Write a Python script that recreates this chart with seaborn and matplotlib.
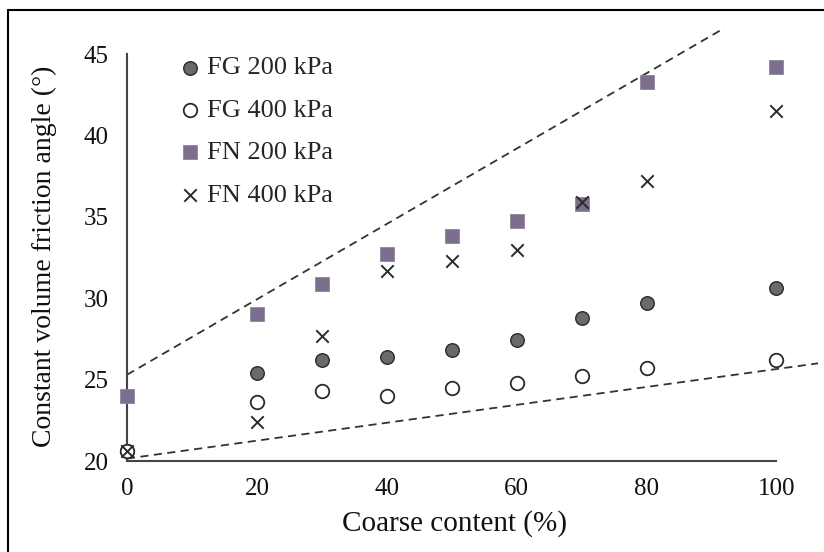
import numpy as np
import pandas as pd
import seaborn as sns
import matplotlib
matplotlib.use("Agg")
import matplotlib.pyplot as plt
from matplotlib.lines import Line2D

# ---- data ----
coarse = [0, 20, 30, 40, 50, 60, 70, 80, 100]
fg200 = [20.6, 25.4, 26.2, 26.4, 26.8, 27.45, 28.8, 29.7, 30.6]
fg400 = [20.6, 23.6, 24.3, 24.0, 24.5, 24.8, 25.25, 25.7, 26.2]
fn200 = [24.0, 29.0, 30.9, 32.7, 33.8, 34.75, 35.8, 43.3, 44.2]
fn400 = [20.6, 22.4, 27.65, 31.7, 32.3, 32.95, 35.9, 37.2, 41.5]
series_labels = ["FG 200 kPa", "FG 400 kPa", "FN 200 kPa", "FN 400 kPa"]

upper_x = [0, 92]
upper_y = [25.3, 46.6]
lower_x = [0, 106.4]
lower_y = [20.15, 26.0]

xticks = [0, 20, 40, 60, 80, 100]
yticks = [20, 25, 30, 35, 40, 45]
xlabel = "Coarse content (%)"
ylabel = "Constant volume friction angle (°)"

sns.set_style("white")
plt.rcParams["font.family"] = ["Liberation Serif", "DejaVu Serif"]

fig = plt.figure(figsize=(8.24, 5.52), dpi=100)
ax = fig.add_axes([127/824, 1-461/552, (818-127)/824, (461-28)/552])

# bounding dashed lines
sns.lineplot(x=upper_x, y=upper_y, ax=ax, color="#333333", lw=1.3,
             linestyle=(0, (4.5, 3)), legend=False)
sns.lineplot(x=lower_x, y=lower_y, ax=ax, color="#333333", lw=1.3,
             linestyle=(0, (4.5, 3)), legend=False)

styles = [
    dict(marker="o", s=95, color="#6a6a6a", edgecolor="#2a2a2a", linewidth=1.0),
    dict(marker="o", s=95, color="white", edgecolor="#2a2a2a", linewidth=1.3),
    dict(marker="s", s=100, color="#7b6f8d", edgecolor="#8f8799", linewidth=0.6),
    dict(marker="x", s=80, color="#2a2a2a", linewidth=1.4),
]
for vals, lab, st in zip([fg200, fg400, fn200, fn400], series_labels, styles):
    sns.scatterplot(x=coarse, y=vals, ax=ax, label=lab, clip_on=False,
                    zorder=3, **st)

ax.set_xlim(0, 106.4)
ax.set_ylim(20, 46.6)
ax.set_xticks(xticks)
ax.set_yticks(yticks)
ax.set_xticklabels([str(t) for t in xticks])
ax.set_yticklabels([str(t) for t in yticks])

for s in ["top", "right"]:
    ax.spines[s].set_visible(False)
ax.spines["left"].set_bounds(20, 45)
ax.spines["bottom"].set_bounds(0, 100)
for s in ["left", "bottom"]:
    ax.spines[s].set_color("#444444")
    ax.spines[s].set_linewidth(1.5)

ax.tick_params(axis="both", direction="in", length=6, width=1.0,
               color="#999999", labelsize=18, labelcolor="#111111")
ax.tick_params(axis="y", pad=13)
ax.tick_params(axis="x", pad=12)

ax.set_xlabel(xlabel, fontsize=21, color="#111111")
ax.set_ylabel(ylabel, fontsize=20, color="#111111")
ax.xaxis.set_label_coords((454-127)/(818-127), -(510-461)/(461-28))
ax.yaxis.set_label_coords(-(127-57)/(818-127), (461-256)/(461-28))

leg = ax.legend(loc="upper left", bbox_to_anchor=(182/824, 1-56/552),
                bbox_transform=fig.transFigure, frameon=False, fontsize=19,
                handlelength=0.6, handletextpad=0.34, labelspacing=0.72,
                borderpad=0, borderaxespad=0, scatterpoints=1)

# outer frame (top and left)
fig.add_artist(Line2D([8/824, 8/824], [0, 1-10/552], transform=fig.transFigure,
                      color="black", lw=1.5))
fig.add_artist(Line2D([8/824, 1], [1-10/552, 1-10/552], transform=fig.transFigure,
                      color="black", lw=1.5))

fig.savefig("out.png", dpi=100)
